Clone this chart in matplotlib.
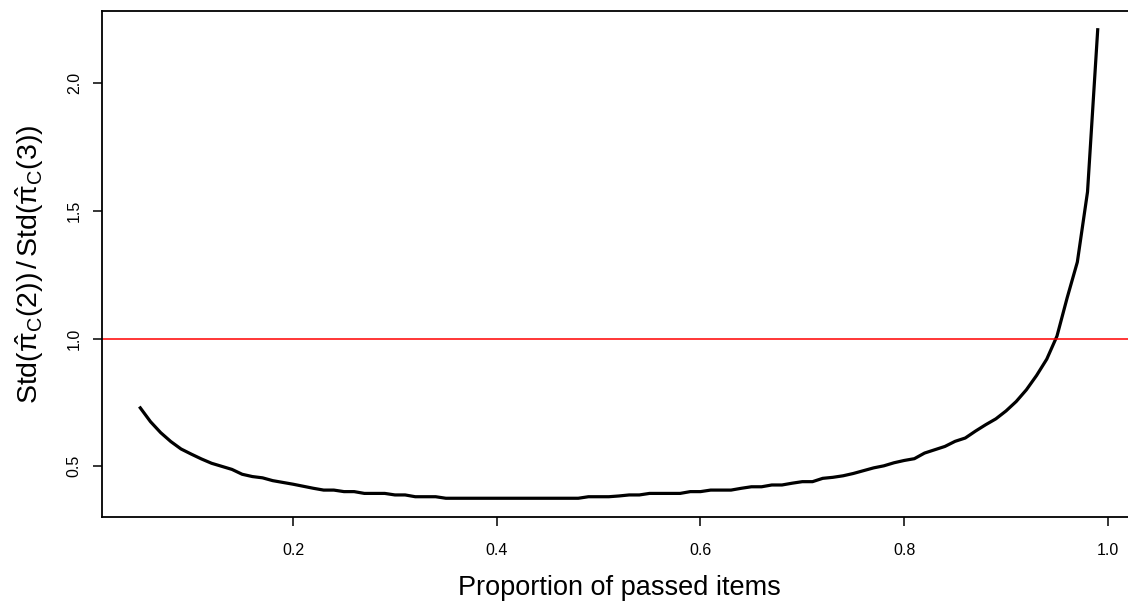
import matplotlib
matplotlib.use("Agg")
import matplotlib.pyplot as plt

plt.rcParams["font.family"] = ["Liberation Sans", "DejaVu Sans"]
plt.rcParams["mathtext.fontset"] = "custom"
plt.rcParams["mathtext.rm"] = "Liberation Sans"
plt.rcParams["mathtext.it"] = "Liberation Sans"
plt.rcParams["mathtext.bf"] = "Liberation Sans:bold"

# proportion of passed items
proportion = [
    0.05, 0.06, 0.07, 0.08, 0.09, 0.10, 0.11, 0.12, 0.13, 0.14,
    0.15, 0.16, 0.17, 0.18, 0.19, 0.20, 0.21, 0.22, 0.23, 0.24,
    0.25, 0.26, 0.27, 0.28, 0.29, 0.30, 0.31, 0.32, 0.33, 0.34,
    0.35, 0.36, 0.37, 0.38, 0.39, 0.40, 0.41, 0.42, 0.43, 0.44,
    0.45, 0.46, 0.47, 0.48, 0.49, 0.50, 0.51, 0.52, 0.53, 0.54,
    0.55, 0.56, 0.57, 0.58, 0.59, 0.60, 0.61, 0.62, 0.63, 0.64,
    0.65, 0.66, 0.67, 0.68, 0.69, 0.70, 0.71, 0.72, 0.73, 0.74,
    0.75, 0.76, 0.77, 0.78, 0.79, 0.80, 0.81, 0.82, 0.83, 0.84,
    0.85, 0.86, 0.87, 0.88, 0.89, 0.90, 0.91, 0.92, 0.93, 0.94,
    0.95, 0.96, 0.97, 0.98, 0.99,
]

# Std(pi_C(2)) / Std(pi_C(3))
std_ratio = [
    0.729, 0.675, 0.632, 0.597, 0.568, 0.548, 0.529, 0.512, 0.500, 0.488,
    0.469, 0.460, 0.455, 0.444, 0.437, 0.430, 0.422, 0.414, 0.407, 0.407,
    0.401, 0.401, 0.394, 0.394, 0.394, 0.388, 0.388, 0.381, 0.381, 0.381,
    0.375, 0.375, 0.375, 0.375, 0.375, 0.375, 0.375, 0.375, 0.375, 0.375,
    0.375, 0.375, 0.375, 0.375, 0.381, 0.381, 0.381, 0.384, 0.388, 0.388,
    0.394, 0.394, 0.394, 0.394, 0.401, 0.401, 0.407, 0.407, 0.407, 0.414,
    0.420, 0.420, 0.427, 0.427, 0.434, 0.440, 0.440, 0.453, 0.457, 0.463,
    0.472, 0.483, 0.494, 0.502, 0.514, 0.523, 0.530, 0.552, 0.565, 0.578,
    0.598, 0.611, 0.638, 0.663, 0.686, 0.717, 0.754, 0.800, 0.856, 0.920,
    1.010, 1.160, 1.300, 1.575, 2.210,
]

ref_level = 1.0
x_ticks = [0.2, 0.4, 0.6, 0.8, 1.0]
x_tick_labels = ["0.2", "0.4", "0.6", "0.8", "1.0"]
y_ticks = [0.5, 1.0, 1.5, 2.0]
y_tick_labels = ["0.5", "1.0", "1.5", "2.0"]

W, H = 1128, 606
fig = plt.figure(figsize=(W / 100, H / 100), dpi=100)
# plot region in pixels: left 102, right 1136 (clipped), top 11, bottom 517
ax = fig.add_axes([102 / W, (H - 517) / H, (1136 - 102) / W, (517 - 11) / H])

ax.plot(proportion, std_ratio, color="black", lw=2.3, solid_joinstyle="round")
ax.margins(x=0.04, y=0.04)
ax.axhline(ref_level, color="red", lw=1.1)

ax.set_xticks(x_ticks)
ax.set_xticklabels(x_tick_labels)
ax.set_yticks(y_ticks)
ax.set_yticklabels(y_tick_labels, rotation=90, va="center")
ax.tick_params(axis="both", length=6.5, width=1.1, labelsize=11.5)
ax.tick_params(axis="x", pad=12)
ax.tick_params(axis="y", pad=8)

for s in ax.spines.values():
    s.set_linewidth(1.3)

ax.set_xlabel("Proportion of passed items", fontsize=19.5)
ax.xaxis.label.set_va("center")
ax.xaxis.set_label_coords(0.5, (517 - 588) / 506)

ax.set_ylabel(r"$\mathrm{Std}(\hat{\pi}_\mathrm{C}(2))\,/\,\mathrm{Std}(\hat{\pi}_\mathrm{C}(3))$",
              fontsize=20.5)
ax.yaxis.label.set_va("center")
ax.yaxis.set_label_coords((30 - 102) / 1034, 0.5)

fig.savefig("out.png", dpi=100)
